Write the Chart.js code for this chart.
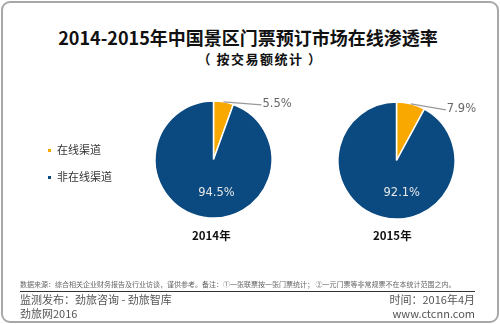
<!DOCTYPE html>
<html><head><meta charset="utf-8">
<script src="https://cdn.jsdelivr.net/npm/chart.js@4/dist/chart.umd.min.js"></script>
<style>
html,body{margin:0;padding:0;background:#fff;}
body{width:500px;height:324px;position:relative;overflow:hidden;font-family:"Noto Sans CJK SC","Noto Sans",sans-serif;}
#frame{position:absolute;left:1px;top:1px;width:494px;height:318px;border:2px solid #a8a8a8;border-radius:9px;}
.t{position:absolute;white-space:nowrap;}
#title{left:0;width:496px;text-align:center;top:25px;font-size:18px;font-weight:bold;color:#111;line-height:24px;}
#sub{left:10px;width:500px;text-align:center;top:50px;font-size:13px;font-weight:bold;color:#111;line-height:18px;letter-spacing:1.5px;}
canvas{position:absolute;left:0;top:0;}
.leg{position:absolute;left:48px;font-size:11px;color:#333;line-height:14px;}
.leg i{display:inline-block;width:3px;height:3px;margin-right:6px;vertical-align:middle;position:relative;top:-1px;}
.yr{position:absolute;font-size:11.5px;font-weight:bold;color:#111;top:227px;}
#src{left:20px;top:279px;font-size:7px;color:#666;line-height:11px;}
#hr{position:absolute;left:20px;top:291px;width:455px;height:1px;background:#333;}
.ft{font-size:11px;color:#555;line-height:14px;}
</style></head>
<body>
<div id="frame"></div>
<div class="t" id="title">2014-2015年中国景区门票预订市场在线渗透率</div>
<div class="t" id="sub">（ 按交易额统计 ）</div>
<canvas id="c1" width="500" height="324"></canvas>
<canvas id="c2" width="500" height="324"></canvas>
<div id="legend"></div>
<div class="yr" id="y1"></div>
<div class="yr" id="y2"></div>
<div class="t" id="src">数据来源：综合相关企业财务报告及行业访谈，谨供参考。备注：①一张联票按一张门票统计；  ②一元门票等非常规票不在本统计范围之内。</div>
<div id="hr"></div>
<div class="t ft" style="left:20px;top:292px;">监测发布：劲旅咨询 - 劲旅智库</div>
<div class="t ft" style="right:25px;top:292px;">时间：2016年4月</div>
<div class="t ft" style="left:20px;top:306px;">劲旅网2016</div>
<div class="t ft" style="right:25px;top:306px;">www.ctcnn.com</div>
<script>
const categories = ["在线渠道","非在线渠道"];
const years = ["2014年","2015年"];
const values2014 = [5.5, 94.5];
const values2015 = [7.9, 92.1];
const colors = ["#F9A800","#0B4A80"];

// legend
const lg = document.getElementById('legend');
categories.forEach((c,i)=>{
  const d=document.createElement('div');d.className='leg';
  d.style.top=(142+i*27)+'px';
  d.innerHTML='<i style="background:'+colors[i]+'"></i>'+c;
  lg.appendChild(d);
});

const labelPlugin = {
  id:'pieLabels',
  afterDatasetsDraw(chart, args, opts){
    const ctx=chart.ctx;
    const meta=chart.getDatasetMeta(0);
    const data=chart.data.datasets[0].data;
    meta.data.forEach((arc,i)=>{
      const p=arc.getProps(['x','y','startAngle','endAngle','outerRadius'],true);
      const mid=(p.startAngle+p.endAngle)/2;
      const txt=data[i].toFixed(1)+'%';
      ctx.save();
      ctx.font='11.5px "DejaVu Sans", Verdana, sans-serif';
      if(i===0){
        const ax=p.x+Math.cos(mid)*p.outerRadius, ay=p.y+Math.sin(mid)*p.outerRadius;
        const ex=ax+opts.leader[0], ey=ay+opts.leader[1];
        ctx.strokeStyle='#999';ctx.lineWidth=1.2;
        ctx.beginPath();ctx.moveTo(ax,ay);ctx.lineTo(ex,ey);ctx.stroke();
        ctx.fillStyle='#666';ctx.textAlign='left';ctx.textBaseline='middle';
        ctx.fillText(txt,ex+1,ey-1);
      } else {
        ctx.fillStyle='#e6e6e6';ctx.textAlign='center';ctx.textBaseline='middle';
        ctx.fillText(txt,p.x+opts.inner[0]*p.outerRadius,p.y+opts.inner[1]*p.outerRadius);
      }
      ctx.restore();
    });
  }
};

function makePie(id, vals, pad, leader, inner){
  return new Chart(document.getElementById(id),{
    type:'pie',
    data:{labels:categories,datasets:[{data:vals,backgroundColor:colors,borderColor:'#fff',borderWidth:1.5,hoverOffset:0}]},
    options:{responsive:false,animation:false,events:[],
      layout:{padding:pad},
      plugins:{legend:{display:false},tooltip:{enabled:false},
        pieLabels:{leader:leader,inner:inner}}},
    plugins:[labelPlugin]
  });
}
makePie('c1', values2014, {left:154.25,right:227.25,top:100.25,bottom:105.25}, [38,3], [0.05,0.57]);
makePie('c2', values2015, {left:337.25,right:44.25,top:101.25,bottom:104.25}, [35,6], [0.09,0.55]);

document.getElementById('y1').textContent=years[0];
document.getElementById('y1').style.left='192px';
document.getElementById('y2').textContent=years[1];
document.getElementById('y2').style.left='373px';
</script>
</body></html>
